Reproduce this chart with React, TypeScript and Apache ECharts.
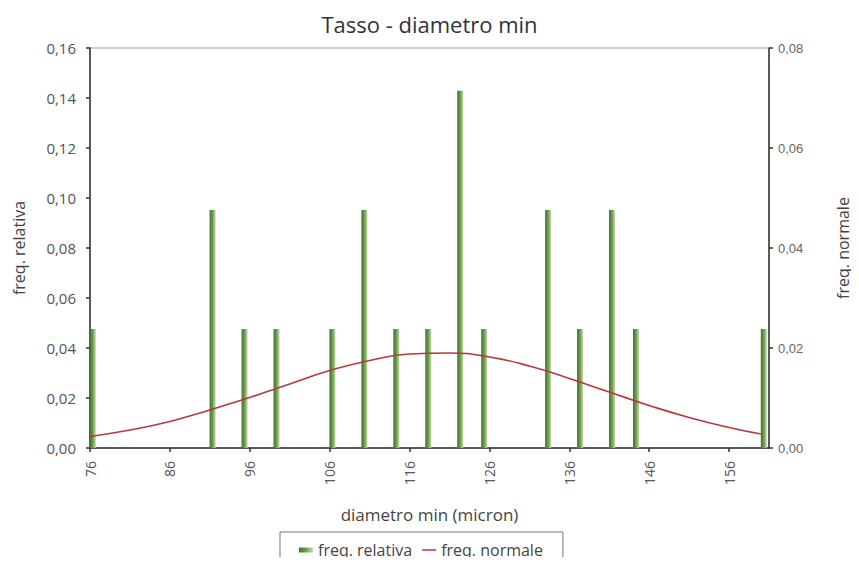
import React, { useEffect, useRef } from "react";
import * as echarts from "echarts";

const TITLE = "Tasso - diametro min";
const X_NAME = "diametro min (micron)";
const Y_LEFT_NAME = "freq. relativa";
const Y_RIGHT_NAME = "freq. normale";

// bar positions (diametro min, micron) and relative frequencies
const diameters = [76, 91, 95, 99, 106, 110, 114, 118, 122, 125, 133, 137, 141, 144, 160];
const freqRelativa = [
  0.0476, 0.0952, 0.0476, 0.0476, 0.0476, 0.0952, 0.0476, 0.0476, 0.1429, 0.0476, 0.0952, 0.0476,
  0.0952, 0.0476, 0.0476,
];

// normal curve
const normalX = [76, 81, 86, 91, 96, 101, 106, 111, 116, 121, 126, 131, 136, 141, 146, 151, 156, 160];
const freqNormale = [
  0.0023, 0.0036, 0.0053, 0.0076, 0.0101, 0.0128, 0.0155, 0.0175, 0.0188, 0.019, 0.0182, 0.0164,
  0.0139, 0.0112, 0.0085, 0.0061, 0.0041, 0.0028,
];

const X_MIN = 76;
const X_MAX = 161;
const X_STEP = 10;
const BAR_SHIFT = 0.35;

const fmt = (v: number) => v.toFixed(2).replace(".", ",");

export default function App() {
  const ref = useRef<HTMLDivElement>(null);
  useEffect(() => {
    if (!ref.current) return;
    const chart = echarts.init(ref.current, null, { renderer: "svg" });
    const font = "'Open Sans', 'Noto Sans', sans-serif";
    const axisLine = { show: true, lineStyle: { color: "#333", width: 1.5 } };
    const axisTick = { show: true, length: 4, lineStyle: { color: "#333", width: 1.5 } };
    chart.setOption({
      animation: false,
      backgroundColor: "#fff",
      title: {
        text: TITLE,
        left: "center",
        top: 8,
        textStyle: { fontFamily: font, fontSize: 22, fontWeight: "normal", color: "#333" },
      },
      grid: {
        left: 90,
        right: 80,
        top: 48,
        bottom: 117,
        show: true,
        borderColor: "#cfcfcf",
        borderWidth: 2,
        backgroundColor: "transparent",
      },
      legend: {
        left: 280,
        top: 532,
        itemGap: 10,
        itemWidth: 14,
        itemHeight: 5,
        padding: [10, 20, 14, 19],
        borderColor: "#777",
        borderWidth: 1,
        textStyle: { fontFamily: font, fontSize: 16, color: "#444" },
        data: [
          { name: Y_LEFT_NAME, icon: "rect" },
          { name: Y_RIGHT_NAME, icon: "path://M0,0 H28 V3 H0 Z" },
        ],
      },
      xAxis: [
        {
          type: "value",
          min: X_MIN,
          max: X_MAX,
          interval: X_STEP,
          name: X_NAME,
          nameLocation: "middle",
          nameGap: 58,
          nameTextStyle: { fontFamily: font, fontSize: 17, color: "#444" },
          axisLine,
          axisTick,
          axisLabel: {
            rotate: 90,
            margin: 13,
            showMaxLabel: false,
            fontFamily: font,
            fontSize: 14,
            color: "#555",
          },
          splitLine: { show: false },
        },
        {
          type: "value",
          min: X_MIN - BAR_SHIFT,
          max: X_MAX - BAR_SHIFT,
          show: false,
          position: "bottom",
          splitLine: { show: false },
        },
      ],
      yAxis: [
        {
          type: "value",
          min: 0,
          max: 0.16,
          interval: 0.02,
          name: Y_LEFT_NAME,
          nameLocation: "middle",
          nameRotate: 90,
          nameGap: 63,
          nameTextStyle: { fontFamily: font, fontSize: 16, color: "#444" },
          axisLine,
          axisTick,
          axisLabel: { formatter: fmt, fontFamily: font, fontSize: 15, color: "#555", margin: 14 },
          splitLine: { show: false },
        },
        {
          type: "value",
          min: 0,
          max: 0.08,
          interval: 0.02,
          position: "right",
          name: Y_RIGHT_NAME,
          nameLocation: "middle",
          nameRotate: 90,
          nameGap: 66,
          nameTextStyle: { fontFamily: font, fontSize: 16, color: "#444" },
          axisLine,
          axisTick,
          axisLabel: {
            formatter: fmt,
            fontFamily: "'Liberation Sans', Arial, sans-serif",
            fontSize: 13,
            color: "#666",
            margin: 9,
          },
          splitLine: { show: false },
        },
      ],
      series: [
        {
          name: Y_LEFT_NAME,
          type: "bar",
          xAxisIndex: 1,
          yAxisIndex: 0,
          barWidth: 6,
          data: diameters.map((d, i) => [d, freqRelativa[i]]),
          itemStyle: {
            color: new echarts.graphic.LinearGradient(0, 0, 1, 0, [
              { offset: 0, color: "#41702a" },
              { offset: 0.5, color: "#6e9c50" },
              { offset: 1, color: "#c2dbab" },
            ]),
          },
        },
        {
          name: Y_RIGHT_NAME,
          type: "line",
          xAxisIndex: 0,
          yAxisIndex: 1,
          smooth: true,
          symbol: "none",
          data: normalX.map((d, i) => [d, freqNormale[i]]),
          lineStyle: { color: "#b8383a", width: 1.6 },
          itemStyle: { color: "#b8383a" },
          z: 5,
        },
      ],
    });
    return () => chart.dispose();
  }, []);
  return <div ref={ref} style={{ width: 859, height: 565, margin: -8 }} />;
}
